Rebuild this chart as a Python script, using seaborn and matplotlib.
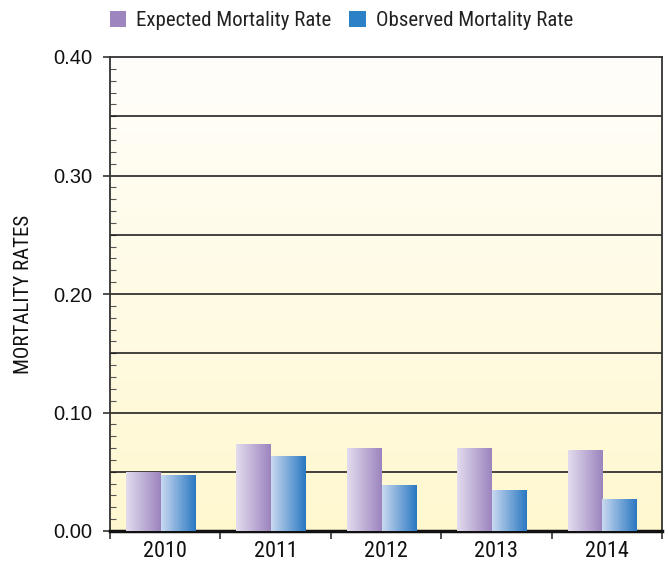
import numpy as np
import pandas as pd
import matplotlib
matplotlib.use("Agg")
import matplotlib.pyplot as plt
import seaborn as sns
from matplotlib.colors import LinearSegmentedColormap
from matplotlib.patches import Patch

years = ["2010", "2011", "2012", "2013", "2014"]
expected = [0.050, 0.073, 0.070, 0.070, 0.068]
observed = [0.047, 0.063, 0.039, 0.035, 0.027]
series_names = ["Expected Mortality Rate", "Observed Mortality Rate"]
y_ticks = [0.0, 0.1, 0.2, 0.3, 0.4]
y_label = "MORTALITY RATES"

df = pd.DataFrame({
    "Year": years * 2,
    "Rate": expected + observed,
    "Series": [series_names[0]] * len(years) + [series_names[1]] * len(years),
})

sns.set_theme(style="white")
narrow = ["Roboto Condensed", "DejaVu Sans"]
regular = ["Liberation Sans", "DejaVu Sans"]
plt.rcParams["font.family"] = regular

fig = plt.figure(figsize=(6.69, 5.63), dpi=100)
ax = fig.add_axes([110 / 669, 32 / 563, 552 / 669, 474 / 563])

solid = {series_names[0]: "#9D86C0", series_names[1]: "#2C80C6"}
sns.barplot(data=df, x="Year", y="Rate", hue="Series", order=years,
            hue_order=series_names, palette=solid, width=0.63,
            dodge=True, ax=ax, legend=False, saturation=1)

ax.set_ylim(0, 0.4)
ax.set_xlim(-0.5, len(years) - 0.5)

# background gradient (white top -> light yellow bottom)
bg = LinearSegmentedColormap.from_list("bg", ["#FFF8CF", "#FFFEFB"])
grad = np.linspace(0, 1, 256).reshape(-1, 1)
ax.imshow(grad, cmap=bg, aspect="auto", origin="lower",
          extent=[-0.5, len(years) - 0.5, 0, 0.4], zorder=0)

# gradient fill on bars
cmaps = [LinearSegmentedColormap.from_list("e", ["#E3DCEE", "#9B84BE"]),
         LinearSegmentedColormap.from_list("o", ["#C9D9F0", "#2A78C2"])]
hgrad = np.linspace(0, 1, 256).reshape(1, -1)
n = len(years)
for i, bar in enumerate(ax.patches[:2 * n]):
    cm = cmaps[i // n]
    x0, w = bar.get_x(), bar.get_width()
    h = bar.get_height()
    im = ax.imshow(hgrad, cmap=cm, aspect="auto",
                   extent=[x0 - 0.04, x0 + w - 0.04, 0, h], zorder=3)
    bar.set_x(x0 - 0.04)
    im.set_clip_path(bar)
    bar.set_facecolor("none")
    bar.set_edgecolor("none")

# grid lines every 0.05
for yv in np.arange(0.05, 0.40, 0.05):
    ax.axhline(yv, color="#111111", lw=1.1, zorder=1)

ax.set_yticks(y_ticks)
ax.set_yticklabels([f"{v:.2f}" for v in y_ticks], fontfamily=regular, fontsize=14.5, color="#111111")
ax.set_yticks(np.arange(0, 0.401, 0.01), minor=True)
ax.tick_params(axis="y", which="major", direction="out", length=5, width=1.2, color="#333333", pad=8, left=True)
ax.tick_params(axis="y", which="minor", direction="in", length=4, width=0.8, color="#555555", left=True)

ax.set_xticks(range(n))
ax.set_xticklabels(years, fontfamily=narrow, fontsize=16, color="#111111")
ax.set_xticks(np.arange(-0.5, n, 1.0), minor=True)
ax.tick_params(axis="x", which="major", length=0, pad=7)
ax.tick_params(axis="x", which="minor", direction="out", length=6, width=1.2, color="#333333", bottom=True)

ax.set_xlabel("")
ax.set_ylabel(y_label, fontfamily=narrow, fontsize=15, color="#111111", labelpad=14)

for side in ["left", "right", "top"]:
    ax.spines[side].set_color("#333333")
    ax.spines[side].set_linewidth(1.3)
    ax.spines[side].set_visible(True)
ax.spines["bottom"].set_color("#111111")
ax.spines["bottom"].set_linewidth(2.5)
ax.spines["bottom"].set_visible(True)

handles = [Patch(facecolor=solid[s], edgecolor="none") for s in series_names]
fig.legend(handles, series_names, loc="upper left", bbox_to_anchor=(91 / 669, 1.014),
           ncol=2, frameon=False, prop={"family": narrow, "size": 15},
           handlelength=0.78, handleheight=0.78, columnspacing=0.85, handletextpad=0.5,
           labelcolor="#222222")

fig.savefig("out.png", dpi=100, facecolor="white")
